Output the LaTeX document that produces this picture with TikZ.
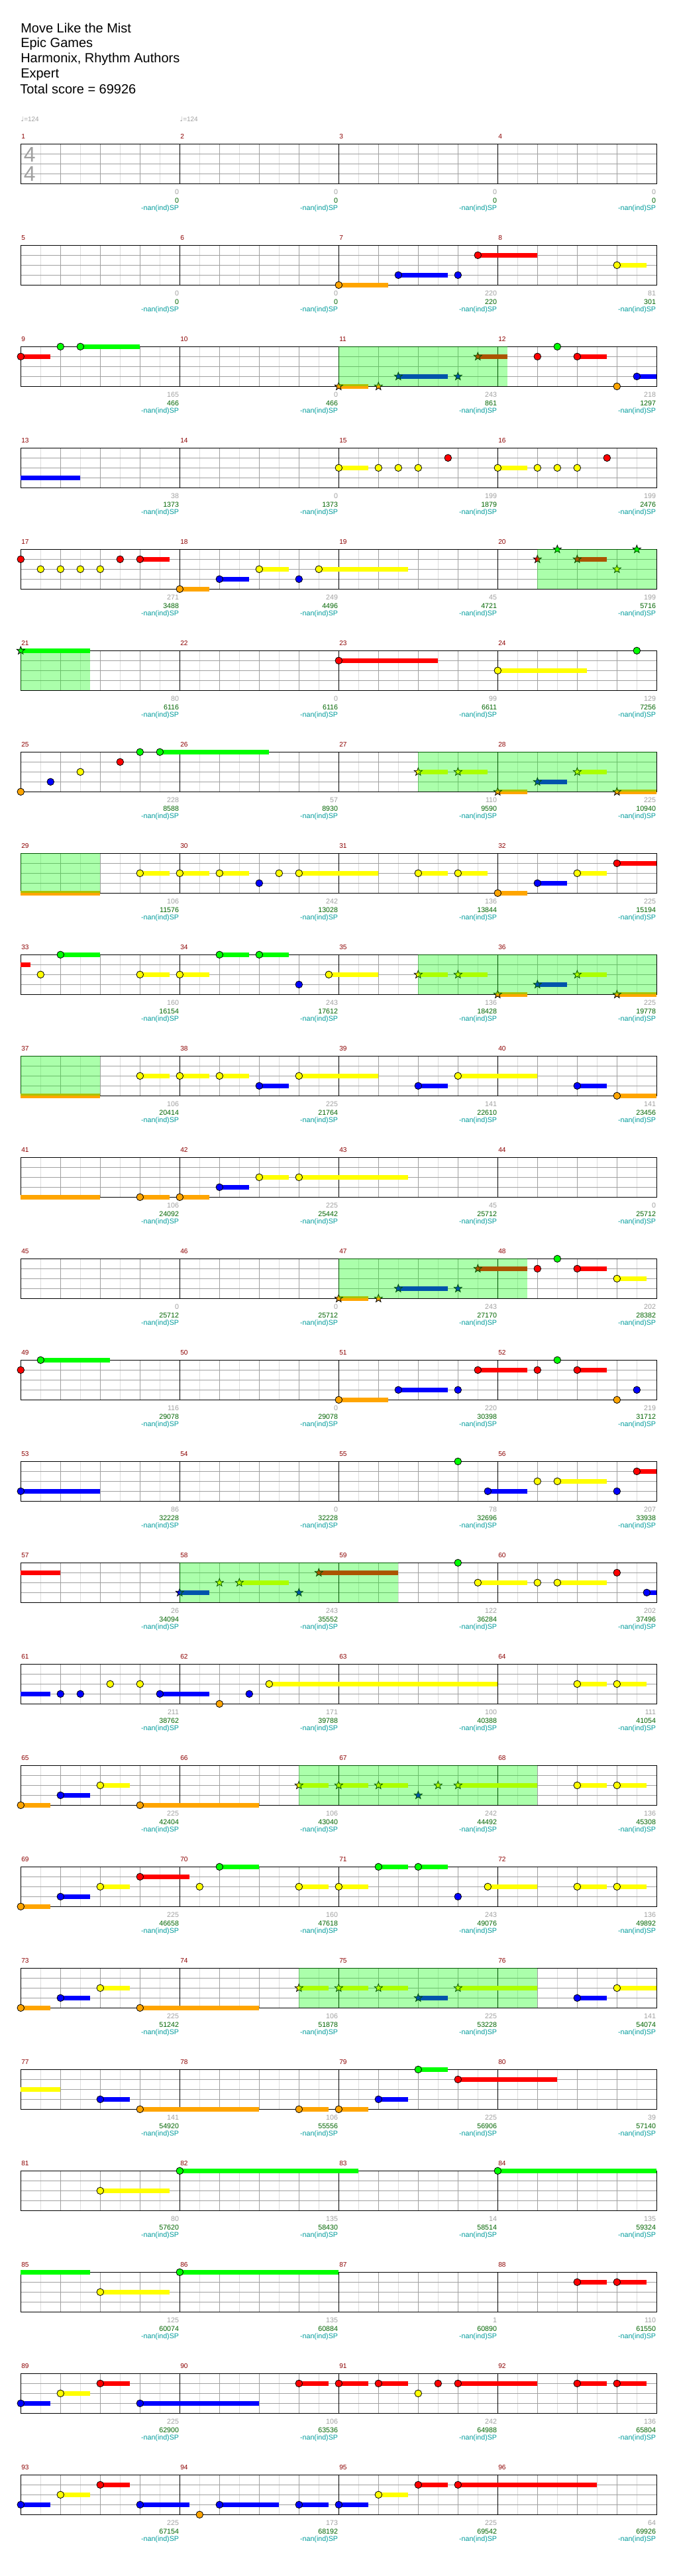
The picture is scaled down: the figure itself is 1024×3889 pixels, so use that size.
\documentclass[tikz,border=0pt]{standalone}
\usepackage{fontspec}
\setmainfont{Liberation Sans}
\newfontfamily\tempofont{DejaVu Sans}
\usepackage{xcolor}
\usepackage{tikz}
\usetikzlibrary{positioning}
\definecolor{gem0}{HTML}{00FF00}
\definecolor{gem1}{HTML}{FF0000}
\definecolor{gem2}{HTML}{FFFF00}
\definecolor{gem3}{HTML}{0000FF}
\definecolor{gem4}{HTML}{FFA500}
\definecolor{chartgray}{HTML}{A0A0A0}
\definecolor{chartlight}{HTML}{DDDDDD}
\definecolor{chartred}{HTML}{8B0000}
\definecolor{chartgreen}{HTML}{006400}
\definecolor{chartteal}{HTML}{009B9B}

\newcommand{\gem}[4]{%
  \pgfmathsetmacro\gx{31.3+30*#2}%
  \pgfmathsetmacro\gy{217.3+153*(#1-1)+15*#3}%
  \ifdim #4pt>0pt \fill[gem#3] (\gx,\gy-3.35) rectangle ++(30*#4,6.7);\fi
  \filldraw[head, fill=gem#3] (\gx,\gy) circle[radius=5.3];}
\newcommand{\stargem}[4]{%
  \pgfmathsetmacro\gx{31.3+30*#2}%
  \pgfmathsetmacro\gy{217.3+153*(#1-1)+15*#3}%
  \ifdim #4pt>0pt \fill[gem#3] (\gx,\gy-3.35) rectangle ++(30*#4,6.7);\fi
  \filldraw[head, fill=gem#3, shift={(\gx,\gy)}] (270:6.3) -- (306:2.6) -- (342:6.3) -- (18:2.6) -- (54:6.3) -- (90:2.6) -- (126:6.3) -- (162:2.6) -- (198:6.3) -- (234:2.6) -- cycle;}
\newcommand{\sustain}[4]{%
  \pgfmathsetmacro\gx{31.3+30*#2}%
  \pgfmathsetmacro\gy{217.3+153*(#1-1)+15*#3}%
  \fill[gem#3] (\gx,\gy-3.35) rectangle ++(30*#4,6.7);}
\newcommand{\spzone}[3]{%
  \pgfmathsetmacro\gy{217.3+153*(#1-1)}%
  \fill[spfill] (31.3+30*#2,\gy) rectangle (31.3+30*#3,\gy+60);}

\begin{document}
\begin{tikzpicture}[x=0.75pt, y=-0.75pt,
  title/.style={font=\fontsize{15}{17}\selectfont, anchor=base west, inner sep=0pt},
  tempo/.style={font=\fontsize{7.5}{9}\selectfont, text=chartgray, anchor=base west, inner sep=0pt},
  timesig/.style={font=\fontsize{24}{24}\selectfont, text=chartgray, inner sep=0pt},
  mnum/.style={font=\fontsize{7.6}{9}\selectfont, text=chartred, anchor=base west, inner sep=0pt},
  score/.style={font=\fontsize{8}{9}\selectfont, text=chartgray, anchor=base east, inner sep=0pt},
  total/.style={font=\fontsize{8}{9}\selectfont, text=chartgreen, anchor=base east, inner sep=0pt},
  spnote/.style={font=\fontsize{8}{9}\selectfont, text=chartteal, anchor=base east, inner sep=0pt},
  eighth/.style={draw=chartlight, line width=0.75pt},
  beat/.style={draw=chartgray, line width=0.75pt},
  lane/.style={draw=chartgray, line width=0.9pt},
  bar/.style={draw=black, line width=0.75pt},
  staff/.style={draw=black, line width=1.1pt},
  head/.style={draw=black, line width=0.6pt},
  spfill/.style={fill=green, fill opacity=0.33}
]
\useasboundingbox (0,0) rectangle (1024,3889);

\node[title] (song) at (31,49.3) {Move Like the Mist};
\node[title] (artist) at (31,72) {Epic Games};
\node[title] (charter) at (31,95) {Harmonix, Rhythm Authors};
\node[title] (level) at (31,118) {Expert};
\node[title] (total) at (30,141.3) {Total score = 69926};

\node[tempo] (bpm1) at (31.3,184) {{\tempofont ♩}=124};
\node[tempo] (bpm2) at (271.3,184) {{\tempofont ♩}=124};

\foreach \rw in {0,...,23}{
  \pgfmathsetmacro\rowtop{217.3+153*\rw}
  \foreach \p in {1,3,...,31} \draw[eighth] (31.3+30*\p,\rowtop) -- ++(0,60);
  \foreach \p in {2,4,6,10,12,14,18,20,22,26,28,30} \draw[beat] (31.3+30*\p,\rowtop) -- ++(0,60);
  \foreach \l in {1,2,3} \draw[lane] (31.3,\rowtop+15*\l) -- ++(960,0);
  \foreach \p in {8,16,24} \draw[bar] (31.3+30*\p,\rowtop) -- ++(0,60);
  \draw[staff] (31.3,\rowtop) rectangle ++(960,60);
}

\node[timesig] (tsa) at (44.8,233.3) {4};
\node[timesig] (tsb) at (44.8,262.3) {4};

\foreach \m/\msc/\mtot in {1/0/0, 2/0/0, 3/0/0, 4/0/0,
  5/0/0, 6/0/0, 7/220/220, 8/81/301,
  9/165/466, 10/0/466, 11/243/861, 12/218/1297,
  13/38/1373, 14/0/1373, 15/199/1879, 16/199/2476,
  17/271/3488, 18/249/4496, 19/45/4721, 20/199/5716,
  21/80/6116, 22/0/6116, 23/99/6611, 24/129/7256,
  25/228/8588, 26/57/8930, 27/110/9590, 28/225/10940,
  29/106/11576, 30/242/13028, 31/136/13844, 32/225/15194,
  33/160/16154, 34/243/17612, 35/136/18428, 36/225/19778,
  37/106/20414, 38/225/21764, 39/141/22610, 40/141/23456,
  41/106/24092, 42/225/25442, 43/45/25712, 44/0/25712,
  45/0/25712, 46/0/25712, 47/243/27170, 48/202/28382,
  49/116/29078, 50/0/29078, 51/220/30398, 52/219/31712,
  53/86/32228, 54/0/32228, 55/78/32696, 56/207/33938,
  57/26/34094, 58/243/35552, 59/122/36284, 60/202/37496,
  61/211/38762, 62/171/39788, 63/100/40388, 64/111/41054,
  65/225/42404, 66/106/43040, 67/242/44492, 68/136/45308,
  69/225/46658, 70/160/47618, 71/243/49076, 72/136/49892,
  73/225/51242, 74/106/51878, 75/225/53228, 76/141/54074,
  77/141/54920, 78/106/55556, 79/225/56906, 80/39/57140,
  81/80/57620, 82/135/58430, 83/14/58514, 84/135/59324,
  85/125/60074, 86/135/60884, 87/1/60890, 88/110/61550,
  89/225/62900, 90/106/63536, 91/242/64988, 92/136/65804,
  93/225/67154, 94/173/68192, 95/225/69542, 96/64/69926}{
  \pgfmathtruncatemacro\rw{(\m-1)/4}
  \pgfmathtruncatemacro\cl{mod(\m-1,4)}
  \pgfmathsetmacro\rowtop{217.3+153*\rw}
  \pgfmathsetmacro\bx{31.3+240*\cl}
  \node[mnum] (num\m) at (\bx+0.7,\rowtop-7.6) {\m};
  \node[score] (sc\m) at (\bx+239,\rowtop+75.7) {\msc};
  \node[total] (tt\m) at (\bx+239,\rowtop+88.7) {\mtot};
  \node[spnote] (sp\m) at (\bx+239,\rowtop+100.5) {-nan(ind)SP};
}

\gem{2}{16}{4}{2.5} \gem{2}{19}{3}{2.5} \gem{2}{22}{3}{0} \gem{2}{23}{1}{3} \gem{2}{30}{2}{1.5}

\gem{3}{0}{1}{1.5} \gem{3}{2}{0}{0} \gem{3}{3}{0}{3}
\stargem{3}{16}{4}{1.5} \stargem{3}{18}{4}{0} \stargem{3}{19}{3}{2.5} \stargem{3}{22}{3}{0} \stargem{3}{23}{1}{1.5}
\gem{3}{26}{1}{0} \gem{3}{27}{0}{0} \gem{3}{28}{1}{1.5} \gem{3}{30}{4}{0} \gem{3}{31}{3}{1}

\sustain{4}{0}{3}{3}
\gem{4}{16}{2}{1.5} \gem{4}{18}{2}{0} \gem{4}{19}{2}{0} \gem{4}{20}{2}{0} \gem{4}{21.5}{1}{0}
\gem{4}{24}{2}{1.5} \gem{4}{26}{2}{0} \gem{4}{27}{2}{0} \gem{4}{28}{2}{0} \gem{4}{29.5}{1}{0}

\gem{5}{0}{1}{0} \gem{5}{1}{2}{0} \gem{5}{2}{2}{0} \gem{5}{3}{2}{0} \gem{5}{4}{2}{0} \gem{5}{5}{1}{0}
\gem{5}{6}{1}{1.5} \gem{5}{8}{4}{1.5} \gem{5}{10}{3}{1.5} \gem{5}{12}{2}{1.5} \gem{5}{14}{3}{0} \gem{5}{15}{2}{4.5}
\stargem{5}{26}{1}{0} \stargem{5}{27}{0}{0} \stargem{5}{28}{1}{1.5} \stargem{5}{30}{2}{0} \stargem{5}{31}{0}{0}

\stargem{6}{0}{0}{3.5} \gem{6}{16}{1}{5} \gem{6}{24}{2}{4.5} \gem{6}{31}{0}{0}

\gem{7}{0}{4}{0} \gem{7}{1.5}{3}{0} \gem{7}{3}{2}{0} \gem{7}{5}{1}{0} \gem{7}{6}{0}{0} \gem{7}{7}{0}{5.5}
\stargem{7}{20}{2}{1.5} \stargem{7}{22}{2}{1.5} \stargem{7}{24}{4}{1.5} \stargem{7}{26}{3}{1.5} \stargem{7}{28}{2}{1.5} \stargem{7}{30}{4}{2}

\sustain{8}{0}{4}{4}
\gem{8}{6}{2}{1.5} \gem{8}{8}{2}{1.5} \gem{8}{10}{2}{1.5} \gem{8}{12}{3}{0} \gem{8}{13}{2}{0} \gem{8}{14}{2}{4}
\gem{8}{20}{2}{1.5} \gem{8}{22}{2}{1.5} \gem{8}{24}{4}{1.5} \gem{8}{26}{3}{1.5} \gem{8}{28}{2}{1.5} \gem{8}{30}{1}{2}

\sustain{9}{0}{1}{0.5}
\gem{9}{1}{2}{0} \gem{9}{2}{0}{2} \gem{9}{6}{2}{1.5} \gem{9}{8}{2}{1.5} \gem{9}{10}{0}{1.5} \gem{9}{12}{0}{1.5}
\gem{9}{14}{3}{0} \gem{9}{15.5}{2}{2.5}
\stargem{9}{20}{2}{1.5} \stargem{9}{22}{2}{1.5} \stargem{9}{24}{4}{1.5} \stargem{9}{26}{3}{1.5} \stargem{9}{28}{2}{1.5} \stargem{9}{30}{4}{2}

\sustain{10}{0}{4}{4}
\gem{10}{6}{2}{1.5} \gem{10}{8}{2}{1.5} \gem{10}{10}{2}{1.5} \gem{10}{12}{3}{1.5} \gem{10}{14}{2}{4}
\gem{10}{20}{3}{1.5} \gem{10}{22}{2}{4} \gem{10}{28}{3}{1.5} \gem{10}{30}{4}{2}

\sustain{11}{0}{4}{4}
\gem{11}{6}{4}{1.5} \gem{11}{8}{4}{1.5} \gem{11}{10}{3}{1.5} \gem{11}{12}{2}{1.5} \gem{11}{14}{2}{5.5}

\stargem{12}{16}{4}{1.5} \stargem{12}{18}{4}{0} \stargem{12}{19}{3}{2.5} \stargem{12}{22}{3}{0} \stargem{12}{23}{1}{2.5}
\gem{12}{26}{1}{0} \gem{12}{27}{0}{0} \gem{12}{28}{1}{1.5} \gem{12}{30}{2}{1.5}

\gem{13}{0}{1}{0} \gem{13}{1}{0}{3.5} \gem{13}{16}{4}{2.5} \gem{13}{19}{3}{2.5} \gem{13}{22}{3}{0} \gem{13}{23}{1}{2.5}
\gem{13}{26}{1}{0} \gem{13}{27}{0}{0} \gem{13}{28}{1}{1.5} \gem{13}{30}{4}{0} \gem{13}{31}{3}{0}

\gem{14}{0}{3}{4} \gem{14}{22}{0}{0} \gem{14}{23.5}{3}{2} \gem{14}{26}{2}{0} \gem{14}{27}{2}{2.5} \gem{14}{30}{3}{0} \gem{14}{31}{1}{1}

\sustain{15}{0}{1}{2}
\stargem{15}{8}{3}{1.5} \stargem{15}{10}{2}{0} \stargem{15}{11}{2}{2.5} \stargem{15}{14}{3}{0} \stargem{15}{15}{1}{4}
\gem{15}{22}{0}{0} \gem{15}{23}{2}{2.5} \gem{15}{26}{2}{0} \gem{15}{27}{2}{2.5} \gem{15}{30}{1}{0} \gem{15}{31.5}{3}{0.5}

\sustain{16}{0}{3}{1.5}
\gem{16}{2}{3}{0} \gem{16}{3}{3}{0} \gem{16}{4.5}{2}{0} \gem{16}{6}{2}{0} \gem{16}{7}{3}{2.5} \gem{16}{10}{4}{0}
\gem{16}{11.5}{3}{0} \gem{16}{12.5}{2}{11.5} \gem{16}{28}{2}{1.5} \gem{16}{30}{2}{1.5}

\gem{17}{0}{4}{1.5} \gem{17}{2}{3}{1.5} \gem{17}{4}{2}{1.5} \gem{17}{6}{4}{6}
\stargem{17}{14}{2}{1.5} \stargem{17}{16}{2}{1.5} \stargem{17}{18}{2}{1.5} \stargem{17}{20}{3}{0} \stargem{17}{21}{2}{0} \stargem{17}{22}{2}{4}
\gem{17}{28}{2}{1.5} \gem{17}{30}{2}{1.5}

\gem{18}{0}{4}{1.5} \gem{18}{2}{3}{1.5} \gem{18}{4}{2}{1.5} \gem{18}{6}{1}{2.5} \gem{18}{9}{2}{0} \gem{18}{10}{0}{2}
\gem{18}{14}{2}{1.5} \gem{18}{16}{2}{1.5} \gem{18}{18}{0}{1.5} \gem{18}{20}{0}{1.5} \gem{18}{22}{3}{0}
\gem{18}{23.5}{2}{2.5} \gem{18}{28}{2}{1.5} \gem{18}{30}{2}{1.5}

\gem{19}{0}{4}{1.5} \gem{19}{2}{3}{1.5} \gem{19}{4}{2}{1.5} \gem{19}{6}{4}{6}
\stargem{19}{14}{2}{1.5} \stargem{19}{16}{2}{1.5} \stargem{19}{18}{2}{1.5} \stargem{19}{20}{3}{1.5} \stargem{19}{22}{2}{4}
\gem{19}{28}{3}{1.5} \gem{19}{30}{2}{2}

\sustain{20}{0}{2}{2}
\gem{20}{4}{3}{1.5} \gem{20}{6}{4}{6} \gem{20}{14}{4}{1.5} \gem{20}{16}{4}{1.5} \gem{20}{18}{3}{1.5} \gem{20}{20}{0}{1.5} \gem{20}{22}{1}{5}

\gem{21}{4}{2}{3.5} \gem{21}{8}{0}{9} \gem{21}{24}{0}{8}

\sustain{22}{0}{0}{3.5}
\gem{22}{4}{2}{3.5} \gem{22}{8}{0}{8} \gem{22}{28}{1}{1.5} \gem{22}{30}{1}{1.5}

\gem{23}{0}{3}{1.5} \gem{23}{2}{2}{1.5} \gem{23}{4}{1}{1.5} \gem{23}{6}{3}{6} \gem{23}{14}{1}{1.5} \gem{23}{16}{1}{1.5}
\gem{23}{18}{1}{1.5} \gem{23}{20}{2}{0} \gem{23}{21}{1}{0} \gem{23}{22}{1}{4} \gem{23}{28}{1}{1.5} \gem{23}{30}{1}{1.5}

\gem{24}{0}{3}{1.5} \gem{24}{2}{2}{1.5} \gem{24}{4}{1}{1.5} \gem{24}{6}{3}{2.5} \gem{24}{9}{4}{0} \gem{24}{10}{3}{3}
\gem{24}{14}{3}{1.5} \gem{24}{16}{3}{1.5} \gem{24}{18}{2}{1.5} \gem{24}{20}{1}{1.5} \gem{24}{22}{1}{7}

\spzone{3}{16}{24.5} \spzone{5}{26}{32} \spzone{6}{0}{3.5}
\spzone{7}{20}{32} \spzone{8}{0}{4} \spzone{9}{20}{32} \spzone{10}{0}{4}
\spzone{12}{16}{25.5} \spzone{15}{8}{19} \spzone{17}{14}{26} \spzone{19}{14}{26}
\end{tikzpicture}
\end{document}
